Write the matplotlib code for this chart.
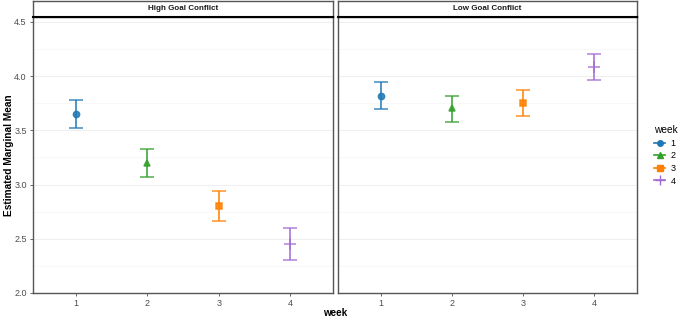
import matplotlib.pyplot as plt
from matplotlib.lines import Line2D
import numpy as np

plt.rcParams['font.family'] = ['Liberation Sans', 'DejaVu Sans']

# estimated marginal means with CI, per panel
weeks = [1, 2, 3, 4]
panels = ['High Goal Conflict', 'Low Goal Conflict']
high_mean = [3.65, 3.20, 2.80, 2.45]
high_low = [3.52, 3.07, 2.66, 2.30]
high_up = [3.78, 3.33, 2.94, 2.60]
low_mean = [3.82, 3.705, 3.75, 4.08]
low_low = [3.70, 3.58, 3.63, 3.96]
low_up = [3.945, 3.82, 3.87, 4.20]

colors = ['#1f78b4', '#33a02c', '#ff7f00', '#a26bd4']
markers = ['o', '^', 's', '+']

fig = plt.figure(figsize=(6.85, 3.23), dpi=100)
W, H = 685.0, 323.0
boxes = [(33, 333), (338, 637)]
top, bottom, strip_h = 16.5, 293, 16

data = [(high_mean, high_low, high_up), (low_mean, low_low, low_up)]

for i, (x0, x1) in enumerate(boxes):
    ax = fig.add_axes([x0 / W, (H - bottom) / H, (x1 - x0) / W, (bottom - top) / H])
    mean, lo, up = data[i]
    for j, w in enumerate(weeks):
        ax.errorbar(w, mean[j], yerr=[[mean[j] - lo[j]], [up[j] - mean[j]]],
                    color=colors[j], ecolor=colors[j], elinewidth=1.3, capsize=5,
                    capthick=1.3, marker=markers[j],
                    markersize=8 if markers[j] == '+' else 4.5,
                    markeredgewidth=1.1, alpha=0.85, zorder=3)
    ax.set_xlim(0.4, 4.6)
    ax.set_ylim(2.0, 4.55)
    ax.set_xticks(weeks)
    ax.set_yticks([2.0, 2.5, 3.0, 3.5, 4.0, 4.5])
    ax.set_yticks([2.25, 2.75, 3.25, 3.75, 4.25], minor=True)
    ax.grid(True, axis='y', which='major', color='#ebebeb', linewidth=0.6)
    ax.grid(True, axis='y', which='minor', color='#f5f5f5', linewidth=0.5)
    ax.set_axisbelow(True)
    for s in ax.spines.values():
        s.set_color('#555555')
        s.set_linewidth(1.0)
    ax.tick_params(axis='both', which='major', labelsize=6.5, colors='#4d4d4d',
                   length=2.5, width=0.6, pad=2)
    ax.tick_params(axis='y', which='minor', length=0)
    if i == 0:
        ax.yaxis.set_major_formatter(plt.FormatStrFormatter('%.1f'))
    else:
        ax.set_yticklabels([])
        ax.tick_params(axis='y', length=0)

    # facet strip
    sax = fig.add_axes([x0 / W, (H - top) / H, (x1 - x0) / W, strip_h / H])
    sax.set_xticks([])
    sax.set_yticks([])
    for s in sax.spines.values():
        s.set_color('#555555')
        s.set_linewidth(1.0)
    sax.spines['bottom'].set_color('black')
    sax.spines['bottom'].set_linewidth(1.5)
    sax.text(0.5, 0.5, panels[i], ha='center', va='center', fontsize=5.8,
             fontweight='bold', color='#1a1a1a', transform=sax.transAxes)

fig.text(9 / W, 1 - 155 / H, 'Estimated Marginal Mean', ha='center', va='center',
         rotation=90, fontsize=7.3, fontweight='bold')
fig.text(335 / W, 1 - 313 / H, 'week', ha='center', va='center',
         fontsize=7.1, fontweight='bold')

handles = [Line2D([], [], color=colors[j], marker=markers[j], linewidth=1.2,
                  markersize=6.5 if markers[j] == '+' else 4, markeredgewidth=1.0)
           for j in range(4)]
leg = fig.legend(handles, [str(w) for w in weeks], title='week',
                 loc='upper left', bbox_to_anchor=(646 / W, 1 - 117 / H),
                 frameon=False, fontsize=6.5, title_fontsize=7.3,
                 handlelength=1.2, handletextpad=0.6, labelspacing=0.4,
                 alignment='left')

fig.savefig('out.png', dpi=100)
